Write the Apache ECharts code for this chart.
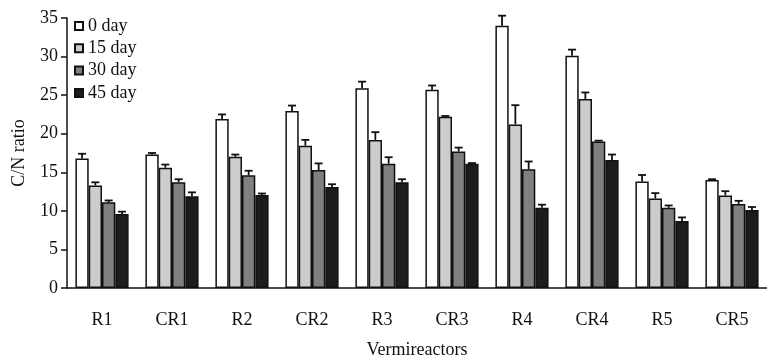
<!DOCTYPE html>
<html>
<head>
<meta charset="utf-8">
<script src="https://cdn.jsdelivr.net/npm/echarts@6/dist/echarts.min.js"></script>
<style>
  html, body { margin: 0; padding: 0; background: #fff; }
  #chart { width: 767px; height: 364px; }
</style>
</head>
<body>
<div id="chart"></div>
<script>
// Реакторы (категории)
const categories = ['R1', 'CR1', 'R2', 'CR2', 'R3', 'CR3', 'R4', 'CR4', 'R5', 'CR5'];
const seriesNames = ['0 day', '15 day', '30 day', '45 day'];
const yTicks = [0, 5, 10, 15, 20, 25, 30, 35];

// Значения C/N по дням
const day0 = [16.8, 17.3, 21.9, 22.95, 25.9, 25.7, 34.0, 30.1, 13.8, 14.0];
const day15 = [13.3, 15.6, 17.0, 18.45, 19.2, 22.2, 21.2, 24.5, 11.6, 12.0];
const day30 = [11.1, 13.7, 14.6, 15.3, 16.1, 17.7, 15.4, 19.0, 10.4, 10.9];
const day45 = [9.6, 11.9, 12.05, 13.1, 13.7, 16.1, 10.4, 16.6, 8.7, 10.1];

// Погрешности (только вверх)
const err0 = [0.6, 0.2, 0.6, 0.7, 0.85, 0.55, 1.3, 0.8, 0.85, 0.1];
const err15 = [0.4, 0.4, 0.3, 0.75, 1.0, 0.1, 2.5, 0.85, 0.7, 0.55];
const err30 = [0.25, 0.4, 0.6, 0.85, 0.85, 0.5, 1.0, 0.1, 0.3, 0.4];
const err45 = [0.3, 0.5, 0.2, 0.35, 0.4, 0.1, 0.4, 0.7, 0.45, 0.4];

const values = [day0, day15, day30, day45];
const errors = [err0, err15, err30, err45];
const colors = ['#ffffff', '#cccccc', '#808080', '#1c1c1c'];

const BAR_W = 13.3;
const FONT = '"Liberation Serif", "Times New Roman", serif';
const FS = 18;

const chart = echarts.init(document.getElementById('chart'));

const barSeries = seriesNames.map((name, i) => ({
  name: name,
  type: 'bar',
  data: values[i],
  barWidth: BAR_W,
  barGap: '0%',
  itemStyle: { color: colors[i], borderColor: '#111', borderWidth: 1.5 },
  z: 2
}));

// Усы погрешностей через custom
const errSeries = seriesNames.map((name, i) => ({
  type: 'custom',
  data: values[i].map((v, k) => [k, v, errors[i][k]]),
  z: 5,
  silent: true,
  renderItem: function (params, api) {
    const k = api.value(0);
    const top = api.value(1);
    const e = api.value(2);
    const base = api.coord([k, top]);
    const hi = api.coord([k, top + e]);
    const x = base[0] + (i - 1.5) * BAR_W;
    const style = { stroke: '#111', lineWidth: 1.8 };
    return {
      type: 'group',
      children: [
        { type: 'line', shape: { x1: x, y1: base[1], x2: x, y2: hi[1] }, style: style },
        { type: 'line', shape: { x1: x - 4, y1: hi[1], x2: x + 4, y2: hi[1] }, style: style }
      ]
    };
  }
}));

const option = {
  animation: false,
  backgroundColor: '#fff',
  textStyle: { fontFamily: FONT, color: '#111' },
  grid: { left: 67, right: -10, top: 18, bottom: 74 },
  legend: {
    data: seriesNames,
    orient: 'vertical',
    left: 69,
    top: 12,
    icon: 'rect',
    itemWidth: 8,
    itemHeight: 8,
    itemGap: 4.3,
    textStyle: { fontFamily: FONT, fontSize: FS, color: '#111' }
  },
  xAxis: {
    type: 'category',
    data: categories,
    name: 'Vermireactors',
    nameLocation: 'middle',
    nameGap: 53,
    nameTextStyle: { fontFamily: FONT, fontSize: FS, color: '#111' },
    axisLine: { lineStyle: { color: '#111', width: 1.5 } },
    axisTick: { length: 6, lineStyle: { color: '#111', width: 1.5 } },
    axisLabel: { fontFamily: FONT, fontSize: FS, color: '#111', margin: 23 }
  },
  yAxis: {
    type: 'value',
    min: yTicks[0],
    max: yTicks[yTicks.length - 1],
    interval: 5,
    name: 'C/N ratio',
    nameLocation: 'middle',
    nameGap: 39,
    nameTextStyle: { fontFamily: FONT, fontSize: FS, color: '#111' },
    axisLine: { show: true, lineStyle: { color: '#111', width: 1.5 } },
    axisTick: { show: true, length: 6, lineStyle: { color: '#111', width: 1.5 } },
    axisLabel: { fontFamily: FONT, fontSize: FS, color: '#111', margin: 9 },
    splitLine: { show: false }
  },
  series: barSeries.concat(errSeries)
};

chart.setOption(option);
</script>
</body>
</html>
